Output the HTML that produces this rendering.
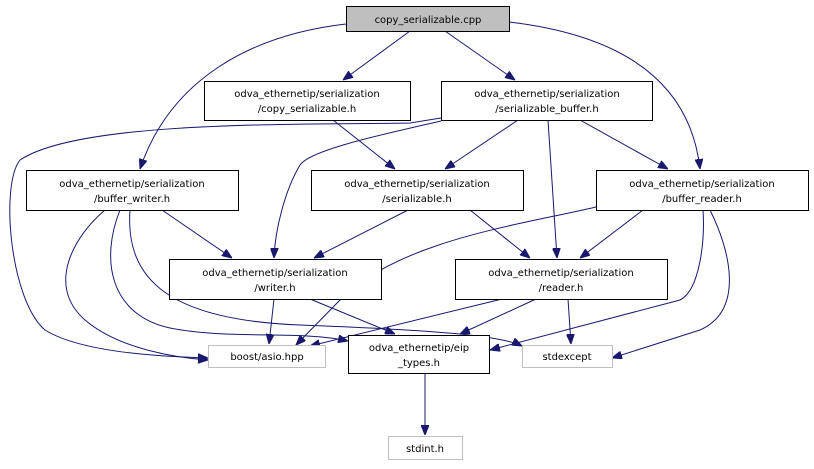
<!DOCTYPE html>
<html><head><meta charset="utf-8"><style>
html,body{margin:0;padding:0;background:#fff;}
svg{display:block;}
text{font-family:"DejaVu Sans","Liberation Sans",sans-serif;font-size:10px;fill:#000;}
</style></head><body>
<svg width="814" height="469" viewBox="0 0 814 469" xmlns="http://www.w3.org/2000/svg">
<defs>
<marker id="a" viewBox="0 0 10 8" refX="10" refY="4" markerWidth="10" markerHeight="8" markerUnits="userSpaceOnUse" orient="auto">
<path d="M0,0 L10,4 L0,8 z" fill="#191970" stroke="#191970"/>
</marker>
</defs>
<g fill="none" stroke="#191970" stroke-width="1" marker-end="url(#a)">
<path d="M410,31 L343,80"/>
<path d="M445,31 L515,80"/>
<path d="M346,24 C250,35 170,80 140,169"/>
<path d="M509,22 C620,35 690,80 700,169"/>
<path d="M333,120 L395,169"/>
<path d="M518,120 L445,169"/>
<path d="M580,120 L668,169"/>
<path d="M548,120 L557,258"/>
<path d="M441,121 C380,135 310,150 300,165 C285,190 275,230 274,258"/>
<path d="M441,118 L410,123 C300,125 80,120 20,160 C0,185 10,300 45,330 C85,355 180,357 208,358"/>
<path d="M162,210 L232,258"/>
<path d="M105,210 C75,235 45,285 85,320 C120,350 180,358 208,360"/>
<path d="M120,210 C100,260 110,315 170,328 C230,340 300,330 348,341"/>
<path d="M130,210 C125,280 170,320 300,325 C430,330 500,335 522,346"/>
<path d="M408,210 L314,258"/>
<path d="M470,210 L530,258"/>
<path d="M643,210 L580,258"/>
<path d="M596,207 C520,225 400,240 340,300 L296,345"/>
<path d="M703,210 C705,240 700,290 680,300 L490,350"/>
<path d="M710,210 C730,250 745,310 700,330 L612,358"/>
<path d="M274,299 L269,344"/>
<path d="M310,299 L395,334"/>
<path d="M502,299 L310,346"/>
<path d="M536,299 L460,334"/>
<path d="M568,299 L571,344"/>
<path d="M425,373 L425,435"/>
</g>
<g stroke="#000" stroke-width="1">
<rect x="346.5" y="6.5" width="163" height="25" fill="#bfbfbf"/>
<rect x="204.5" y="81.5" width="206" height="39" fill="#fff"/>
<rect x="441.5" y="81.5" width="211" height="39" fill="#fff"/>
<rect x="26.5" y="170.5" width="212" height="40" fill="#fff"/>
<rect x="311.5" y="170.5" width="212" height="40" fill="#fff"/>
<rect x="596.5" y="170.5" width="212" height="40" fill="#fff"/>
<rect x="169.5" y="259.5" width="212" height="40" fill="#fff"/>
<rect x="455.5" y="259.5" width="212" height="40" fill="#fff"/>
<rect x="348.5" y="335.5" width="141" height="38" fill="#fff"/>
</g>
<g stroke="#bfbfbf" stroke-width="1" fill="#fff">
<rect x="208.5" y="345.5" width="117" height="22"/>
<rect x="522.5" y="345.5" width="90" height="22"/>
<rect x="388.5" y="436.5" width="74" height="23"/>
</g>
<g text-anchor="middle">
<text x="428" y="23">copy_serializable.cpp</text>
<text x="307" y="97">odva_ethernetip/serialization</text>
<text x="307" y="112">/copy_serializable.h</text>
<text x="547" y="97">odva_ethernetip/serialization</text>
<text x="547" y="112">/serializable_buffer.h</text>
<text x="132" y="187">odva_ethernetip/serialization</text>
<text x="132" y="202">/buffer_writer.h</text>
<text x="417" y="187">odva_ethernetip/serialization</text>
<text x="417" y="202">/serializable.h</text>
<text x="702" y="187">odva_ethernetip/serialization</text>
<text x="702" y="202">/buffer_reader.h</text>
<text x="275" y="276">odva_ethernetip/serialization</text>
<text x="275" y="291">/writer.h</text>
<text x="561" y="276">odva_ethernetip/serialization</text>
<text x="561" y="291">/reader.h</text>
<text x="419" y="351">odva_ethernetip/eip</text>
<text x="419" y="366">_types.h</text>
<text x="267" y="360">boost/asio.hpp</text>
<text x="567" y="360">stdexcept</text>
<text x="425" y="452">stdint.h</text>
</g>
</svg>
</body></html>
